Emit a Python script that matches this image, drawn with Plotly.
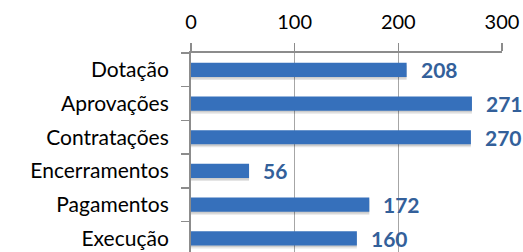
import plotly.graph_objects as go

categories = ["Dotação", "Aprovações", "Contratações", "Encerramentos", "Pagamentos", "Execução"]
values = [208, 271, 270, 56, 172, 160]
tick_vals = [0, 100, 200, 300]

FONT = "Lato"
AXIS_GRAY = "#8c8c8c"
GRID_GRAY = "#a6a6a6"
BAR_BLUE = "#3670bb"
LABEL_BLUE = "#33609a"
BAR_W = 0.42

fig = go.Figure()
# soft shadow under bars
fig.add_trace(go.Bar(
    x=values, y=categories, orientation="h",
    width=BAR_W, offset=-BAR_W / 2 + 0.09,
    marker=dict(color="rgba(0,0,0,0.10)", line=dict(width=0)),
    hoverinfo="skip",
))
fig.add_trace(go.Bar(
    x=values, y=categories, orientation="h",
    width=BAR_W, offset=-BAR_W / 2 + 0.05,
    marker=dict(color="rgba(0,0,0,0.10)", line=dict(width=0)),
    hoverinfo="skip",
))
fig.add_trace(go.Bar(
    x=values, y=categories, orientation="h",
    width=BAR_W, offset=-BAR_W / 2,
    marker=dict(color=BAR_BLUE, line=dict(width=0)),
    hoverinfo="skip",
))

for c, v in zip(categories, values):
    fig.add_annotation(
        x=v, y=c, text=f"<b>{v}</b>", showarrow=False,
        xanchor="left", yanchor="middle", xshift=12,
        font=dict(family=FONT, size=21, color=LABEL_BLUE),
    )

fig.update_layout(
    width=523, height=252,
    barmode="overlay",
    margin=dict(l=191, r=21, t=53, b=0, autoexpand=False),
    paper_bgcolor="white", plot_bgcolor="white",
    showlegend=False,
    font=dict(family=FONT, size=21, color="#000000"),
    xaxis=dict(
        side="top", range=[0, 300], tickvals=tick_vals,
        showline=True, linecolor=AXIS_GRAY, linewidth=2,
        ticks="outside", ticklen=8, tickcolor=AXIS_GRAY, tickwidth=1.5,
        showgrid=True, gridcolor=GRID_GRAY, gridwidth=1,
        zeroline=False, ticklabelstandoff=6, automargin=False,
        tickfont=dict(family=FONT, size=20, color="#000000"),
        fixedrange=True,
    ),
    yaxis=dict(
        type="category", categoryorder="array", categoryarray=categories,
        range=[5.405, -0.5],
        showline=True, linecolor=AXIS_GRAY, linewidth=2,
        ticks="outside", tickson="boundaries", ticklen=8, tickcolor=AXIS_GRAY, tickwidth=1.5,
        showgrid=False, zeroline=False, ticklabelstandoff=16, automargin=False,
        tickfont=dict(family=FONT, size=21, color="#000000"),
        fixedrange=True,
    ),
)

fig.write_html(
    "out.html",
    config={"displayModeBar": False, "staticPlot": True},
    post_script="document.body.style.margin='0px';",
)
